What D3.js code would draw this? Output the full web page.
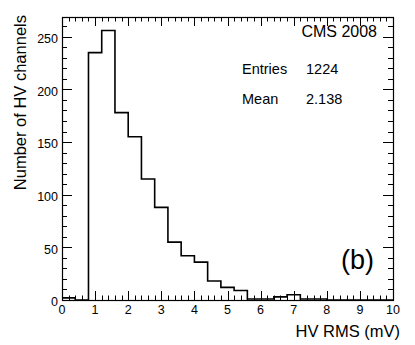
<!DOCTYPE html>
<html>
<head>
<meta charset="utf-8">
<script src="https://cdn.jsdelivr.net/npm/d3@7"></script>
<style>
  body { margin: 0; background: #fff; }
  text { font-family: "Liberation Sans", Arial, Helvetica, sans-serif; fill: #000; }
</style>
</head>
<body>
<svg id="chart" width="415" height="345"></svg>
<script>
"use strict";

// Histogram of HV RMS, 0.4 mV bins
const binLow = [0, 0.4, 0.8, 1.2, 1.6, 2.0, 2.4, 2.8, 3.2, 3.6, 4.0, 4.4, 4.8,
  5.2, 5.6, 6.0, 6.4, 6.8, 7.2, 7.6, 8.0, 8.4, 8.8, 9.2, 9.6];
const counts = [2, 0, 235, 256, 178, 155, 115, 88, 55, 42, 36, 18, 12,
  9, 1, 1, 3, 5, 1, 1, 0, 0, 0, 0, 0];
const xTicks = [0, 1, 2, 3, 4, 5, 6, 7, 8, 9, 10];
const yTicks = [0, 50, 100, 150, 200, 250];
const statsLabels = ["Entries", "Mean"];
const statsValues = ["1224", "2.138"];

const dims = { left: 62, right: 393, top: 17, bottom: 300 };
const svg = d3.select("#chart");

const x = d3.scaleLinear().domain([0, 10]).range([dims.left, dims.right]);
const y = d3.scaleLinear().domain([0, d3.max(counts) * 1.05]).range([dims.bottom, dims.top]);

// Tick marks on all four sides (ROOT style, pointing inward)
const ticks = svg.append("g").attr("stroke", "#000").attr("stroke-width", 1);
const xMinor = d3.range(0, 50.5, 1).map((d) => d / 5);
xMinor.forEach((v) => {
  const major = Math.abs(v - Math.round(v)) < 1e-6;
  const len = major ? 9 : 4.5;
  const px = Math.round(x(v)) + 0.5;
  ticks.append("line").attr("x1", px).attr("x2", px)
    .attr("y1", dims.bottom).attr("y2", dims.bottom - len);
  ticks.append("line").attr("x1", px).attr("x2", px)
    .attr("y1", dims.top).attr("y2", dims.top + len);
});
const yMinor = d3.range(0, 261, 10);
yMinor.forEach((v) => {
  const major = v % 50 === 0;
  const len = major ? 10 : 5;
  const py = Math.round(y(v)) + 0.5;
  ticks.append("line").attr("x1", dims.left).attr("x2", dims.left + len)
    .attr("y1", py).attr("y2", py);
  ticks.append("line").attr("x1", dims.right).attr("x2", dims.right - len)
    .attr("y1", py).attr("y2", py);
});

// Histogram outline
const pts = binLow.map((b, i) => [b, counts[i]]);
pts.push([10, counts[counts.length - 1]]);
const line = d3.line()
  .x((d) => x(d[0]))
  .y((d) => y(d[1]))
  .curve(d3.curveStepAfter);
svg.append("path")
  .attr("d", line(pts))
  .attr("fill", "none")
  .attr("stroke", "#000")
  .attr("stroke-width", 1.6);

// Frame
svg.append("rect")
  .attr("x", dims.left + 0.5).attr("y", dims.top + 0.5)
  .attr("width", dims.right - dims.left).attr("height", dims.bottom - dims.top)
  .attr("fill", "none").attr("stroke", "#000").attr("stroke-width", 1.2);

// Tick labels
svg.append("g").selectAll("text").data(xTicks).join("text")
  .attr("x", (d) => x(d)).attr("y", 314)
  .attr("text-anchor", "middle").attr("font-size", 12.5)
  .text((d) => d);
svg.append("g").selectAll("text").data(yTicks).join("text")
  .attr("x", 58).attr("y", (d) => y(d) + 2)
  .attr("dy", "0.35em")
  .attr("text-anchor", "end").attr("font-size", 12.5)
  .text((d) => d);

// Axis titles
svg.append("text")
  .attr("x", 400).attr("y", 337)
  .attr("text-anchor", "end").attr("font-size", 16.5)
  .text("HV RMS (mV)");
svg.append("text")
  .attr("transform", "translate(26,15) rotate(-90)")
  .attr("text-anchor", "end").attr("font-size", 16.5)
  .text("Number of HV channels");

// Stats and labels
svg.append("text")
  .attr("x", 377).attr("y", 37)
  .attr("text-anchor", "end").attr("font-size", 16)
  .text("CMS 2008");
statsLabels.forEach((s, i) => {
  svg.append("text").attr("x", 242).attr("y", 74 + i * 29.5)
    .attr("font-size", 14.5).text(s);
  svg.append("text").attr("x", 306).attr("y", 74 + i * 29.5)
    .attr("font-size", 14.5).text(statsValues[i]);
});
svg.append("text")
  .attr("x", 341).attr("y", 269)
  .attr("font-size", 27)
  .text("(b)");
</script>
</body>
</html>
